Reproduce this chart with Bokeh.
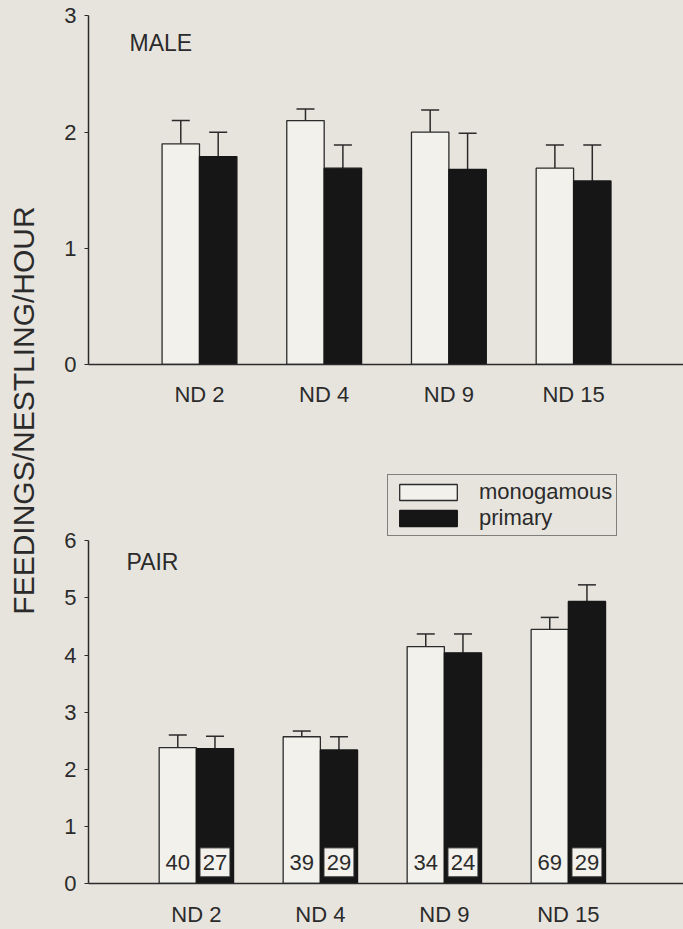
import numpy as np
from bokeh.plotting import figure
from bokeh.models import (ColumnDataSource, Range1d, FixedTicker, Whisker, TeeHead,
                          Label, Legend, LegendItem)
from bokeh.layouts import row, column
from bokeh.embed import file_html
from bokeh.resources import INLINE
from bokeh.core.properties import value

# ---------------- data ----------------
categories = ["ND 2", "ND 4", "ND 9", "ND 15"]
series = ["monogamous", "primary"]

male_mono = [1.90, 2.10, 2.00, 1.69]
male_mono_se = [0.20, 0.10, 0.19, 0.20]
male_prim = [1.79, 1.69, 1.68, 1.58]
male_prim_se = [0.21, 0.20, 0.31, 0.31]

pair_mono = [2.38, 2.57, 4.15, 4.45]
pair_mono_se = [0.22, 0.10, 0.22, 0.21]
pair_prim = [2.36, 2.34, 4.04, 4.94]
pair_prim_se = [0.22, 0.23, 0.33, 0.29]

pair_n_mono = [40, 39, 34, 69]
pair_n_prim = [27, 29, 24, 29]

male_ticks = [0, 1, 2, 3]
pair_ticks = [0, 1, 2, 3, 4, 5, 6]

y_title = "FEEDINGS/NESTLING/HOUR"
panel_names = ["MALE", "PAIR"]

# ---------------- style ----------------
BG = "#e7e4de"
INK = "#2b2b2b"
WHITE_BAR = "#f2f1ec"
BLACK_BAR = "#161616"
FONT = "Liberation Sans"
BAR_W = 0.30
OFF = 0.15
TITLE_W = 44

idx = np.arange(len(categories))


def make_panel(width, height, x0, x1, y_end, ml, mr, mt, mb, ticks,
               mono, mono_se, prim, prim_se, tag, tag_xy, x_standoff):
    p = figure(width=width, height=height,
               x_range=Range1d(x0, x1), y_range=Range1d(0, y_end),
               output_backend="svg", toolbar_location=None,
               min_border_left=ml, min_border_right=mr,
               min_border_top=mt, min_border_bottom=mb)
    p.background_fill_color = BG
    p.border_fill_color = BG
    p.outline_line_color = None
    p.grid.visible = False

    mono = np.array(mono, dtype=float)
    prim = np.array(prim, dtype=float)
    src_m = ColumnDataSource(dict(x=idx - OFF, top=mono,
                                  upper=mono + np.array(mono_se)))
    src_p = ColumnDataSource(dict(x=idx + OFF, top=prim,
                                  upper=prim + np.array(prim_se)))

    for src in (src_m, src_p):
        p.add_layout(Whisker(base="x", lower="top", upper="upper", source=src,
                             dimension="height", line_color=INK, line_width=1.5,
                             upper_head=TeeHead(size=18, line_color=INK, line_width=1.5),
                             lower_head=None))

    r_m = p.vbar(x="x", top="top", bottom=0, width=BAR_W, source=src_m,
                 fill_color=WHITE_BAR, line_color=INK, line_width=1.3)
    r_p = p.vbar(x="x", top="top", bottom=0, width=BAR_W, source=src_p,
                 fill_color=BLACK_BAR, line_color=BLACK_BAR, line_width=1.3)

    xa = p.xaxis[0]
    xa.ticker = FixedTicker(ticks=[int(i) for i in idx])
    xa.major_label_overrides = {int(i): c for i, c in zip(idx, categories)}
    xa.major_tick_line_color = None
    xa.major_tick_out = 0
    xa.major_tick_in = 0
    xa.minor_tick_line_color = None
    xa.axis_line_color = INK
    xa.axis_line_width = 1.5
    xa.major_label_standoff = x_standoff
    xa.major_label_text_font = FONT
    xa.major_label_text_font_size = "22px"
    xa.major_label_text_color = INK

    ya = p.yaxis[0]
    ya.ticker = FixedTicker(ticks=ticks)
    ya.bounds = (ticks[0], ticks[-1])
    ya.axis_line_color = INK
    ya.axis_line_width = 1.5
    ya.major_tick_line_color = INK
    ya.major_tick_out = 4
    ya.major_tick_in = 0
    ya.minor_tick_line_color = None
    ya.major_label_standoff = 8
    ya.major_label_text_font = FONT
    ya.major_label_text_font_size = "22px"
    ya.major_label_text_color = INK

    p.add_layout(Label(x=tag_xy[0], y=tag_xy[1], x_units="screen", y_units="screen",
                       text=tag, text_font=FONT, text_font_size="23px",
                       text_color=INK, text_baseline="middle"))
    return p, r_m, r_p


COL_W = 683 - TITLE_W

# top panel (MALE): frame x 88..683, y 10..364 (page px)
top, _, _ = make_panel(COL_W, 472, -0.89, -0.89 + 595 / 124.7, 354 / 116.17,
                       88 - TITLE_W, 0, 10, 108, male_ticks,
                       male_mono, male_mono_se, male_prim, male_prim_se,
                       panel_names[0], (41, 322), 17)

# bottom panel (PAIR): frame x 87..683, y 472..885 (page px)
bot, r_m, r_p = make_panel(COL_W, 457, -0.87, -0.87 + 596 / 124.2, 413 / 57.38,
                           87 - TITLE_W, 0, 0, 44, pair_ticks,
                           pair_mono, pair_mono_se, pair_prim, pair_prim_se,
                           panel_names[1], (38, 322), 18)

# sample sizes
n_y = 0.37
bot.rect(x=idx + OFF, y=np.full(len(idx), n_y), width=30, height=29,
         width_units="screen", height_units="screen",
         fill_color=WHITE_BAR, line_color=INK, line_width=1)
bot.text(x=idx - OFF, y=np.full(len(idx), n_y), text=[str(v) for v in pair_n_mono],
         text_font=value(FONT), text_font_size=value("22px"), text_color=INK,
         text_align="center", text_baseline="middle")
bot.text(x=idx + OFF, y=np.full(len(idx), n_y), text=[str(v) for v in pair_n_prim],
         text_font=value(FONT), text_font_size=value("22px"), text_color=INK,
         text_align="center", text_baseline="middle")

legend = Legend(items=[LegendItem(label=series[0], renderers=[r_m]),
                       LegendItem(label=series[1], renderers=[r_p])],
                location=(299, 347), orientation="vertical",
                label_text_font=FONT, label_text_font_size="22px", label_text_color=INK,
                glyph_width=72, glyph_height=20, label_standoff=15, label_height=26,
                padding=4, spacing=0, margin=0,
                border_line_color="#1a1a1a", border_line_width=1.5,
                background_fill_alpha=0)
bot.add_layout(legend)

# y title column
tf = figure(width=TITLE_W, height=929, x_range=Range1d(0, 1), y_range=Range1d(0, 1),
            output_backend="svg", toolbar_location=None,
            x_axis_location=None, y_axis_location=None, min_border=0)
tf.background_fill_color = BG
tf.border_fill_color = BG
tf.outline_line_color = None
tf.grid.visible = False
tf.add_layout(Label(x=23, y=929 - 410, x_units="screen", y_units="screen", text=y_title,
                    angle=np.pi / 2, text_align="center", text_baseline="middle",
                    text_font=FONT, text_font_size="30px", text_color=INK))

layout = row(tf, column(top, bot, styles={"background-color": BG}),
             styles={"background-color": BG})

html = file_html(layout, INLINE)
html = html.replace("</head>",
                    "<style>html, body {background-color: %s !important;}</style></head>" % BG, 1)
open("out.html", "w").write(html)
